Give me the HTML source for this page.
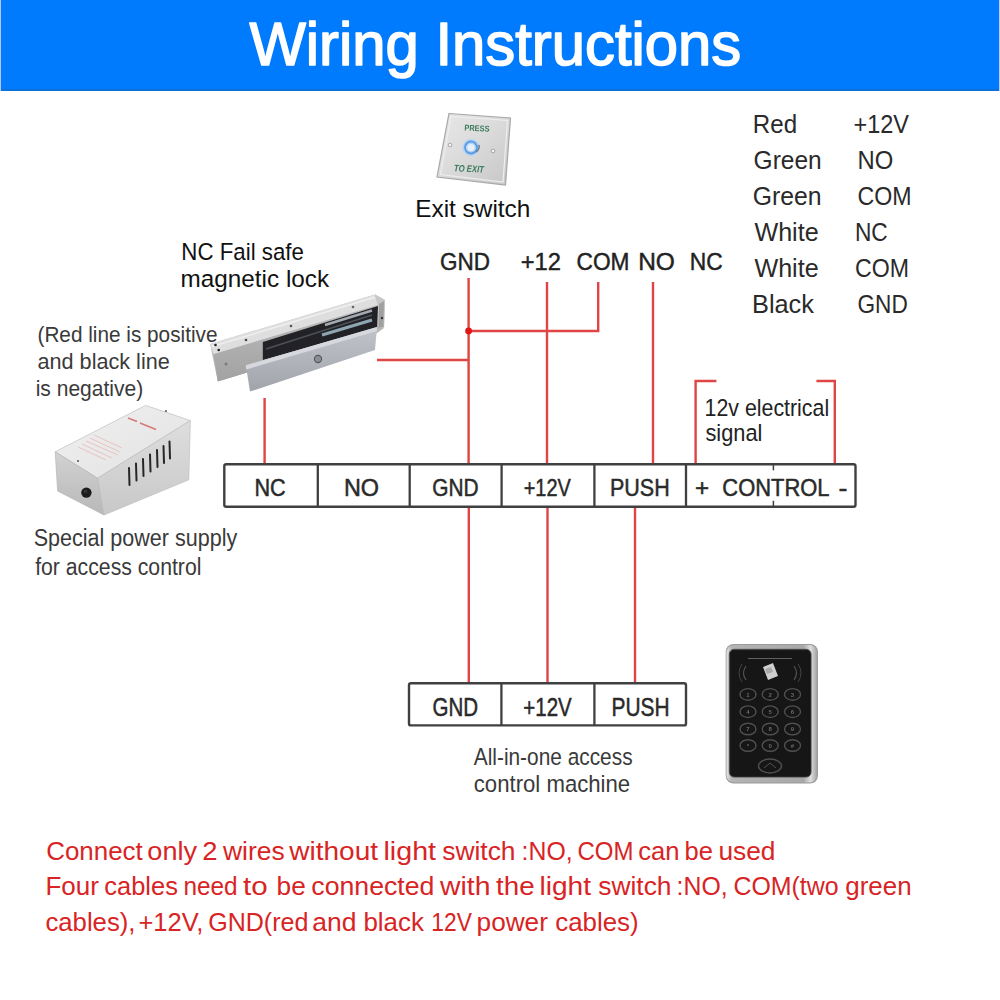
<!DOCTYPE html>
<html><head><meta charset="utf-8"><style>
html,body{margin:0;padding:0;background:#fff;width:1000px;height:1000px;overflow:hidden}
svg{display:block;font-family:"Liberation Sans",sans-serif}
</style></head><body>
<svg width="1000" height="1000" viewBox="0 0 1000 1000">
<rect x="0" y="0" width="1000" height="1000" fill="#fff"/>
<rect x="1" y="0" width="998" height="91" fill="#017bfe"/>
<rect x="1" y="89" width="998" height="2" fill="#0b70d8"/>
<rect x="999" y="0" width="1" height="91" fill="#c4c8fa"/>
<rect x="0" y="0" width="1" height="91" fill="#b8c4f8"/>
<defs>
<linearGradient id="sw" x1="0" y1="0" x2="1" y2="1">
<stop offset="0" stop-color="#e8e8e8"/><stop offset="0.5" stop-color="#dadada"/><stop offset="1" stop-color="#c6c6c6"/>
</linearGradient>
<linearGradient id="lockfront" x1="0" y1="0" x2="0" y2="1">
<stop offset="0" stop-color="#bdbdbd"/><stop offset="1" stop-color="#a2a2a2"/>
</linearGradient>
<linearGradient id="arm" x1="0" y1="0" x2="0" y2="1">
<stop offset="0" stop-color="#c2c4cc"/><stop offset="1" stop-color="#a2a4ac"/>
</linearGradient>
<linearGradient id="kframe" x1="0" y1="0" x2="1" y2="0">
<stop offset="0" stop-color="#e8e8e8"/><stop offset="0.05" stop-color="#b4b4b4"/><stop offset="0.85" stop-color="#a8a8a8"/><stop offset="0.93" stop-color="#dedede"/><stop offset="1" stop-color="#a4a4a4"/>
</linearGradient>
<filter id="soft" x="-5%" y="-5%" width="110%" height="110%"><feGaussianBlur stdDeviation="0.6"/></filter>
<radialGradient id="btn" cx="0.5" cy="0.5" r="0.5">
<stop offset="0" stop-color="#e8f4ff"/><stop offset="0.45" stop-color="#bcdcff"/><stop offset="0.7" stop-color="#3c8ae0"/><stop offset="1" stop-color="#9cc4f0"/>
</radialGradient>
</defs>
<!-- exit switch -->
<g filter="url(#soft)">
<polygon points="449,113.5 510.5,118 505.5,185 437,177" fill="url(#sw)" stroke="#a8a8a8" stroke-width="1.2"/>
<polygon points="451,116.5 507.5,120.5 503,182 440.5,174.5" fill="none" stroke="#eeeeee" stroke-width="1.2"/>
<text x="464.5" y="131" font-size="8.5" font-weight="bold" fill="#3a7a5c" transform="rotate(3 476 128)" textLength="25" lengthAdjust="spacingAndGlyphs">PRESS</text>
<text x="454" y="172" font-size="9.5" font-weight="bold" font-style="italic" fill="#3a7a5c" transform="rotate(3 470 168)" textLength="30" lengthAdjust="spacingAndGlyphs">TO EXIT</text>
<circle cx="471" cy="147.5" r="8.5" fill="#b4d4f4"/>
<circle cx="471" cy="147.5" r="6" fill="none" stroke="#5c9ce6" stroke-width="1.8"/>
<circle cx="471" cy="147.5" r="3.6" fill="#e6f0f8"/>
<path d="M476,152 a7,7 0 0 0 3,-7" fill="none" stroke="#707a84" stroke-width="1.5"/>
<circle cx="450" cy="145" r="1.8" fill="#f8f8f8" stroke="#8a8a8a" stroke-width="0.7"/>
<circle cx="493" cy="151" r="1.8" fill="#f8f8f8" stroke="#8a8a8a" stroke-width="0.7"/>
</g>
<!-- magnetic lock -->
<g filter="url(#soft)">
<polygon points="210.1,344 375,294.5 385,300 384,328 377,333 217.8,381.4" fill="#b8b8b8"/>
<polygon points="210.1,344 375,294.5 378,305 213.5,354.2" fill="#dedede"/>
<polygon points="211,346 374,296.5 375,298 211.5,347.5" fill="#eeeeee"/>
<polygon points="213.5,354.2 378,305 377,333 217.8,381.4" fill="url(#lockfront)"/>
<polygon points="375,294.5 385,300 384,328 378,328 378,305" fill="#c8c8c8"/>
<polygon points="379,304 384,301 383.5,327 378.5,328" fill="#a0a0a0"/>
<polygon points="262.8,342 378,306 377,328 262.8,360" fill="#222428"/>
<line x1="266" y1="349" x2="372" y2="315" stroke="#4c5058" stroke-width="1.4"/>
<line x1="325" y1="325" x2="372" y2="310.5" stroke="#a4a8b0" stroke-width="2.4"/>
<line x1="322" y1="335" x2="372" y2="320" stroke="#8fa6b2" stroke-width="3"/>
<polygon points="245.8,365.3 377,327 375,350 250,391.6" fill="url(#arm)"/>
<polygon points="245.8,365.3 377,327 377,331 246.2,369.5" fill="#d6d8de"/>
<circle cx="318" cy="359" r="3.6" fill="#8c8e94" stroke="#55575c" stroke-width="1.1"/>
<circle cx="246" cy="340" r="1.3" fill="#444"/>
<circle cx="291" cy="326" r="1.3" fill="#555"/>
<circle cx="353" cy="307" r="1.3" fill="#666"/>
<circle cx="215.5" cy="345" r="1.3" fill="#222"/>
<circle cx="218.7" cy="350" r="1.3" fill="#222"/>
<circle cx="226" cy="364" r="1.5" fill="#7a7a7a"/>
<circle cx="382" cy="318" r="1.2" fill="#333"/>
</g>
<!-- power supply -->
<defs>
<linearGradient id="pstop" x1="0" y1="0" x2="1" y2="1"><stop offset="0" stop-color="#f0f0f0"/><stop offset="1" stop-color="#e2e2e2"/></linearGradient>
<linearGradient id="psend" x1="0" y1="0" x2="0" y2="1"><stop offset="0" stop-color="#d2d2d2"/><stop offset="1" stop-color="#b8b8b8"/></linearGradient>
<linearGradient id="psside" x1="0" y1="0" x2="0" y2="1"><stop offset="0" stop-color="#dedede"/><stop offset="1" stop-color="#c8c8c8"/></linearGradient>
</defs>
<g filter="url(#soft)">
<polygon points="55.2,451.8 145.6,405.4 190.4,420.6 97.6,478.2" fill="url(#pstop)" stroke="#c4c4c4" stroke-width="0.8"/>
<polygon points="55.2,451.8 97.6,478.2 104,515 57.6,491" fill="url(#psend)" stroke="#b0b0b0" stroke-width="0.6"/>
<polygon points="97.6,478.2 190.4,420.6 188.8,479.8 104,515" fill="url(#psside)" stroke="#b8b8b8" stroke-width="0.6"/>
<circle cx="86.4" cy="492.6" r="5.2" fill="#1a1a1a"/>
<circle cx="85.5" cy="491.6" r="2" fill="#333"/>
<g stroke="#262626" stroke-width="2" stroke-linecap="round">
<line x1="129" y1="468" x2="129.5" y2="485"/>
<line x1="136" y1="463.5" x2="136.5" y2="480.5"/>
<line x1="143" y1="459" x2="143.5" y2="476"/>
<line x1="150" y1="454.5" x2="150.5" y2="471.5"/>
<line x1="157" y1="450" x2="157.5" y2="467"/>
<line x1="163.5" y1="446" x2="164" y2="463"/>
<line x1="169.5" y1="441.5" x2="170" y2="458.5"/>
</g>
<g stroke="#d87878" stroke-width="1.6">
<line x1="128" y1="418" x2="137" y2="421.5"/>
<line x1="140" y1="423" x2="156" y2="429.5"/>
</g>
<g stroke="#e8b0b0" stroke-width="0.7">
<line x1="86" y1="441" x2="118" y2="455"/>
<line x1="82" y1="444" x2="112" y2="458"/>
<line x1="78" y1="447" x2="106" y2="460"/>
<line x1="90" y1="438" x2="120" y2="452"/>
<line x1="94" y1="435" x2="122" y2="448"/>
</g>
<circle cx="166" cy="411" r="1" fill="#555"/>
<circle cx="78" cy="461" r="1" fill="#555"/>
</g>
<!-- keypad -->
<g filter="url(#soft)">
<rect x="725.7" y="644" width="92.3" height="139.5" rx="8" fill="#9a9a9a"/>
<rect x="726.5" y="645" width="90.5" height="137.5" rx="7.5" fill="url(#kframe)"/>
<rect x="729.3" y="649.3" width="81.8" height="127.8" rx="5" fill="#1a1a1a" stroke="#4a4a4a" stroke-width="0.8"/>
<rect x="731" y="651" width="78.5" height="124.5" rx="4" fill="#141414"/>
<line x1="748" y1="658.5" x2="792" y2="658.5" stroke="#6a6a6a" stroke-width="0.9"/>
<polygon points="763,667 773,663 778,676 768,680" fill="#cfcfcf"/>
<polygon points="765,669 771,667 773,672 767,674" fill="#a8a8a8"/>
<path d="M746,666 q-5,7 0,14" fill="none" stroke="#555" stroke-width="1.2"/>
<path d="M742,664 q-6,9 0,18" fill="none" stroke="#444" stroke-width="1"/>
<path d="M794,666 q5,7 0,14" fill="none" stroke="#555" stroke-width="1.2"/>
<path d="M798,664 q6,9 0,18" fill="none" stroke="#444" stroke-width="1"/>
<g fill="none" stroke="#505050" stroke-width="1.4">
<ellipse cx="748" cy="694.4" rx="8" ry="5.8"/><ellipse cx="770.2" cy="694.4" rx="8" ry="5.8"/><ellipse cx="792.5" cy="694.4" rx="8" ry="5.8"/>
<ellipse cx="748" cy="711.7" rx="8" ry="5.8"/><ellipse cx="770.2" cy="711.7" rx="8" ry="5.8"/><ellipse cx="792.5" cy="711.7" rx="8" ry="5.8"/>
<ellipse cx="748" cy="729" rx="8" ry="5.8"/><ellipse cx="770.2" cy="729" rx="8" ry="5.8"/><ellipse cx="792.5" cy="729" rx="8" ry="5.8"/>
<ellipse cx="748" cy="745.5" rx="8" ry="5.8"/><ellipse cx="770.2" cy="745.5" rx="8" ry="5.8"/><ellipse cx="792.5" cy="745.5" rx="8" ry="5.8"/>
<ellipse cx="770" cy="766" rx="11.5" ry="7"/>
</g>
<g fill="#6a6a6a" font-size="6" font-weight="bold" text-anchor="middle">
<text x="748" y="696.6">1</text><text x="770.2" y="696.6">2</text><text x="792.5" y="696.6">3</text>
<text x="748" y="713.9">4</text><text x="770.2" y="713.9">5</text><text x="792.5" y="713.9">6</text>
<text x="748" y="731.2">7</text><text x="770.2" y="731.2">8</text><text x="792.5" y="731.2">9</text>
<text x="748" y="747.7">*</text><text x="770.2" y="747.7">0</text><text x="792.5" y="747.7">#</text>
</g>
<path d="M764,768 l6,-5 l6,5" fill="none" stroke="#555" stroke-width="1"/>
</g>

<path d="M468.6,278 L468.6,465" fill="none" stroke="#e04444" stroke-width="2.4" stroke-linejoin="miter"/>
<path d="M547,282 L547,465" fill="none" stroke="#e04444" stroke-width="2.4" stroke-linejoin="miter"/>
<path d="M598.2,282 L598.2,331 L468.6,331" fill="none" stroke="#e04444" stroke-width="2.4" stroke-linejoin="miter"/>
<path d="M653,282 L653,465" fill="none" stroke="#e04444" stroke-width="2.4" stroke-linejoin="miter"/>
<path d="M377,360 L468.6,360" fill="none" stroke="#e04444" stroke-width="2.4" stroke-linejoin="miter"/>
<path d="M264.6,398 L264.6,465" fill="none" stroke="#e04444" stroke-width="2.4" stroke-linejoin="miter"/>
<path d="M716.4,381 L695.6,381 L695.6,465" fill="none" stroke="#e04444" stroke-width="2.4" stroke-linejoin="miter"/>
<path d="M816.4,381 L834.8,381 L834.8,465" fill="none" stroke="#e04444" stroke-width="2.4" stroke-linejoin="miter"/>
<path d="M468.8,507 L468.8,684" fill="none" stroke="#e04444" stroke-width="2.4" stroke-linejoin="miter"/>
<path d="M547.5,507 L547.5,684" fill="none" stroke="#e04444" stroke-width="2.4" stroke-linejoin="miter"/>
<path d="M635,507 L635,684" fill="none" stroke="#e04444" stroke-width="2.4" stroke-linejoin="miter"/>
<circle cx="468.6" cy="331" r="3.4" fill="#e01515"/>
<rect x="224.3" y="464.3" width="631.2" height="42.39999999999998" rx="2" fill="none" stroke="#404040" stroke-width="2.4"/>
<line x1="317.8" y1="464.3" x2="317.8" y2="506.7" stroke="#404040" stroke-width="2.3"/>
<line x1="409.7" y1="464.3" x2="409.7" y2="506.7" stroke="#404040" stroke-width="2.3"/>
<line x1="501.6" y1="464.3" x2="501.6" y2="506.7" stroke="#404040" stroke-width="2.3"/>
<line x1="594.4" y1="464.3" x2="594.4" y2="506.7" stroke="#404040" stroke-width="2.3"/>
<line x1="686" y1="464.3" x2="686" y2="506.7" stroke="#404040" stroke-width="2.3"/>
<line x1="773.4" y1="464.3" x2="773.4" y2="470.3" stroke="#404040" stroke-width="1.5"/>
<line x1="773.4" y1="500.7" x2="773.4" y2="506.7" stroke="#404040" stroke-width="1.5"/>
<rect x="409" y="683.2" width="277" height="42.19999999999993" rx="2" fill="none" stroke="#404040" stroke-width="2.4"/>
<line x1="501.4" y1="683.2" x2="501.4" y2="725.4" stroke="#404040" stroke-width="2.3"/>
<line x1="594.4" y1="683.2" x2="594.4" y2="725.4" stroke="#404040" stroke-width="2.3"/>
<text x="249.38" y="64.50" font-size="60.32" font-weight="normal" fill="#fff" stroke="#fff" stroke-width="1.6" stroke-linejoin="round" textLength="491.84" lengthAdjust="spacingAndGlyphs">Wiring Instructions</text>
<text x="415.18" y="216.90" font-size="23.26" font-weight="normal" fill="#111" textLength="115.21" lengthAdjust="spacingAndGlyphs">Exit switch</text>
<text x="752.81" y="133.30" font-size="26.16" font-weight="normal" fill="#2a2a2a" textLength="44.28" lengthAdjust="spacingAndGlyphs">Red</text>
<text x="853.43" y="133.30" font-size="26.16" font-weight="normal" fill="#2a2a2a" textLength="55.54" lengthAdjust="spacingAndGlyphs">+12V</text>
<text x="753.61" y="169.40" font-size="26.16" font-weight="normal" fill="#2a2a2a" textLength="68.06" lengthAdjust="spacingAndGlyphs">Green</text>
<text x="857.43" y="169.40" font-size="26.16" font-weight="normal" fill="#2a2a2a" textLength="35.76" lengthAdjust="spacingAndGlyphs">NO</text>
<text x="752.81" y="205.00" font-size="26.16" font-weight="normal" fill="#2a2a2a" textLength="68.86" lengthAdjust="spacingAndGlyphs">Green</text>
<text x="857.47" y="205.00" font-size="26.16" font-weight="normal" fill="#2a2a2a" textLength="54.10" lengthAdjust="spacingAndGlyphs">COM</text>
<text x="754.41" y="240.70" font-size="26.16" font-weight="normal" fill="#2a2a2a" textLength="64.26" lengthAdjust="spacingAndGlyphs">White</text>
<text x="854.91" y="240.70" font-size="26.16" font-weight="normal" fill="#2a2a2a" textLength="32.86" lengthAdjust="spacingAndGlyphs">NC</text>
<text x="754.41" y="277.00" font-size="26.16" font-weight="normal" fill="#2a2a2a" textLength="64.26" lengthAdjust="spacingAndGlyphs">White</text>
<text x="854.99" y="277.00" font-size="26.16" font-weight="normal" fill="#2a2a2a" textLength="54.00" lengthAdjust="spacingAndGlyphs">COM</text>
<text x="752.01" y="312.60" font-size="26.16" font-weight="normal" fill="#2a2a2a" textLength="61.96" lengthAdjust="spacingAndGlyphs">Black</text>
<text x="857.47" y="312.60" font-size="26.16" font-weight="normal" fill="#2a2a2a" textLength="50.30" lengthAdjust="spacingAndGlyphs">GND</text>
<text x="181.36" y="259.70" font-size="23.26" font-weight="normal" fill="#111" textLength="122.51" lengthAdjust="spacingAndGlyphs">NC Fail safe</text>
<text x="180.56" y="287.20" font-size="23.26" font-weight="normal" fill="#111" textLength="148.61" lengthAdjust="spacingAndGlyphs">magnetic lock</text>
<text x="37.48" y="341.50" font-size="21.37" font-weight="normal" fill="#3a3a3a" textLength="180.00" lengthAdjust="spacingAndGlyphs">(Red line is positive</text>
<text x="37.52" y="368.80" font-size="21.37" font-weight="normal" fill="#3a3a3a" textLength="132.24" lengthAdjust="spacingAndGlyphs">and black line</text>
<text x="35.68" y="396.10" font-size="21.37" font-weight="normal" fill="#3a3a3a" textLength="107.56" lengthAdjust="spacingAndGlyphs">is negative)</text>
<text x="33.70" y="546.40" font-size="23.98" font-weight="normal" fill="#3a3a3a" textLength="203.52" lengthAdjust="spacingAndGlyphs">Special power supply</text>
<text x="35.16" y="575.00" font-size="23.98" font-weight="normal" fill="#3a3a3a" textLength="166.28" lengthAdjust="spacingAndGlyphs">for access control</text>
<text x="440.00" y="270.40" font-size="24.71" font-weight="normal" fill="#222" stroke="#222" stroke-width="0.45" stroke-linejoin="round" textLength="49.97" lengthAdjust="spacingAndGlyphs">GND</text>
<text x="520.76" y="270.40" font-size="24.71" font-weight="normal" fill="#222" stroke="#222" stroke-width="0.45" stroke-linejoin="round" textLength="40.21" lengthAdjust="spacingAndGlyphs">+12</text>
<text x="576.56" y="270.40" font-size="24.71" font-weight="normal" fill="#222" stroke="#222" stroke-width="0.45" stroke-linejoin="round" textLength="52.97" lengthAdjust="spacingAndGlyphs">COM</text>
<text x="638.20" y="270.40" font-size="24.71" font-weight="normal" fill="#222" stroke="#222" stroke-width="0.45" stroke-linejoin="round" textLength="36.73" lengthAdjust="spacingAndGlyphs">NO</text>
<text x="689.76" y="270.40" font-size="24.71" font-weight="normal" fill="#222" stroke="#222" stroke-width="0.45" stroke-linejoin="round" textLength="32.97" lengthAdjust="spacingAndGlyphs">NC</text>
<text x="254.42" y="496.00" font-size="24.71" font-weight="normal" fill="#2a2a2a" stroke="#2a2a2a" stroke-width="0.5" stroke-linejoin="round" textLength="31.31" lengthAdjust="spacingAndGlyphs">NC</text>
<text x="343.96" y="496.00" font-size="24.71" font-weight="normal" fill="#2a2a2a" stroke="#2a2a2a" stroke-width="0.5" stroke-linejoin="round" textLength="35.11" lengthAdjust="spacingAndGlyphs">NO</text>
<text x="432.32" y="496.00" font-size="24.71" font-weight="normal" fill="#2a2a2a" stroke="#2a2a2a" stroke-width="0.5" stroke-linejoin="round" textLength="46.37" lengthAdjust="spacingAndGlyphs">GND</text>
<text x="523.70" y="496.00" font-size="24.71" font-weight="normal" fill="#2a2a2a" stroke="#2a2a2a" stroke-width="0.5" stroke-linejoin="round" textLength="47.09" lengthAdjust="spacingAndGlyphs">+12V</text>
<text x="609.96" y="496.00" font-size="24.71" font-weight="normal" fill="#2a2a2a" stroke="#2a2a2a" stroke-width="0.5" stroke-linejoin="round" textLength="59.77" lengthAdjust="spacingAndGlyphs">PUSH</text>
<text x="694.92" y="496.00" font-size="24.71" font-weight="normal" fill="#2a2a2a" stroke="#2a2a2a" stroke-width="0.5" stroke-linejoin="round" textLength="14.17" lengthAdjust="spacingAndGlyphs">+</text>
<text x="722.32" y="496.00" font-size="24.71" font-weight="normal" fill="#2a2a2a" stroke="#2a2a2a" stroke-width="0.5" stroke-linejoin="round" textLength="107.17" lengthAdjust="spacingAndGlyphs">CONTROL</text>
<text x="838.52" y="496.00" font-size="24.71" font-weight="normal" fill="#2a2a2a" stroke="#2a2a2a" stroke-width="0.5" stroke-linejoin="round" textLength="8.97" lengthAdjust="spacingAndGlyphs">-</text>
<text x="704.60" y="415.60" font-size="23.26" font-weight="normal" fill="#222" textLength="124.55" lengthAdjust="spacingAndGlyphs">12v electrical</text>
<text x="705.40" y="441.20" font-size="23.26" font-weight="normal" fill="#222" textLength="57.03" lengthAdjust="spacingAndGlyphs">signal</text>
<text x="432.43" y="715.50" font-size="26.16" font-weight="normal" fill="#2a2a2a" stroke="#2a2a2a" stroke-width="0.5" stroke-linejoin="round" textLength="45.58" lengthAdjust="spacingAndGlyphs">GND</text>
<text x="523.33" y="715.50" font-size="26.16" font-weight="normal" fill="#2a2a2a" stroke="#2a2a2a" stroke-width="0.5" stroke-linejoin="round" textLength="48.44" lengthAdjust="spacingAndGlyphs">+12V</text>
<text x="611.43" y="715.50" font-size="26.16" font-weight="normal" fill="#2a2a2a" stroke="#2a2a2a" stroke-width="0.5" stroke-linejoin="round" textLength="58.14" lengthAdjust="spacingAndGlyphs">PUSH</text>
<text x="473.78" y="765.40" font-size="23.26" font-weight="normal" fill="#3a3a3a" textLength="158.81" lengthAdjust="spacingAndGlyphs">All-in-one access</text>
<text x="473.78" y="792.00" font-size="23.26" font-weight="normal" fill="#3a3a3a" textLength="156.43" lengthAdjust="spacingAndGlyphs">control machine</text>
<text x="46.23" y="860.00" font-size="26.16" font-weight="normal" fill="#d82424" textLength="96.54" lengthAdjust="spacingAndGlyphs">Connect</text>
<text x="147.38" y="860.00" font-size="26.16" font-weight="normal" fill="#d82424" textLength="49.69" lengthAdjust="spacingAndGlyphs">only</text>
<text x="202.38" y="860.00" font-size="26.16" font-weight="normal" fill="#d82424" textLength="15.24" lengthAdjust="spacingAndGlyphs">2</text>
<text x="222.93" y="860.00" font-size="26.16" font-weight="normal" fill="#d82424" textLength="61.79" lengthAdjust="spacingAndGlyphs">wires</text>
<text x="289.23" y="860.00" font-size="26.16" font-weight="normal" fill="#d82424" textLength="88.89" lengthAdjust="spacingAndGlyphs">without</text>
<text x="383.53" y="860.00" font-size="26.16" font-weight="normal" fill="#d82424" textLength="52.49" lengthAdjust="spacingAndGlyphs">light</text>
<text x="442.23" y="860.00" font-size="26.16" font-weight="normal" fill="#d82424" textLength="73.29" lengthAdjust="spacingAndGlyphs">switch</text>
<text x="521.58" y="860.00" font-size="26.16" font-weight="normal" fill="#d82424" textLength="51.04" lengthAdjust="spacingAndGlyphs">:NO,</text>
<text x="577.38" y="860.00" font-size="26.16" font-weight="normal" fill="#d82424" textLength="56.04" lengthAdjust="spacingAndGlyphs">COM</text>
<text x="638.18" y="860.00" font-size="26.16" font-weight="normal" fill="#d82424" textLength="41.29" lengthAdjust="spacingAndGlyphs">can</text>
<text x="684.48" y="860.00" font-size="26.16" font-weight="normal" fill="#d82424" textLength="28.39" lengthAdjust="spacingAndGlyphs">be</text>
<text x="718.43" y="860.00" font-size="26.16" font-weight="normal" fill="#d82424" textLength="57.09" lengthAdjust="spacingAndGlyphs">used</text>
<text x="45.43" y="895.40" font-size="26.16" font-weight="normal" fill="#d82424" textLength="53.49" lengthAdjust="spacingAndGlyphs">Four</text>
<text x="104.33" y="895.40" font-size="26.16" font-weight="normal" fill="#d82424" textLength="73.54" lengthAdjust="spacingAndGlyphs">cables</text>
<text x="183.43" y="895.40" font-size="26.16" font-weight="normal" fill="#d82424" textLength="54.19" lengthAdjust="spacingAndGlyphs">need</text>
<text x="242.93" y="895.40" font-size="26.16" font-weight="normal" fill="#d82424" textLength="24.69" lengthAdjust="spacingAndGlyphs">to</text>
<text x="276.58" y="895.40" font-size="26.16" font-weight="normal" fill="#d82424" textLength="29.19" lengthAdjust="spacingAndGlyphs">be</text>
<text x="311.33" y="895.40" font-size="26.16" font-weight="normal" fill="#d82424" textLength="123.14" lengthAdjust="spacingAndGlyphs">connected</text>
<text x="440.03" y="895.40" font-size="26.16" font-weight="normal" fill="#d82424" textLength="50.49" lengthAdjust="spacingAndGlyphs">with</text>
<text x="496.08" y="895.40" font-size="26.16" font-weight="normal" fill="#d82424" textLength="38.64" lengthAdjust="spacingAndGlyphs">the</text>
<text x="539.48" y="895.40" font-size="26.16" font-weight="normal" fill="#d82424" textLength="51.54" lengthAdjust="spacingAndGlyphs">light</text>
<text x="598.18" y="895.40" font-size="26.16" font-weight="normal" fill="#d82424" textLength="73.39" lengthAdjust="spacingAndGlyphs">switch</text>
<text x="676.58" y="895.40" font-size="26.16" font-weight="normal" fill="#d82424" textLength="51.04" lengthAdjust="spacingAndGlyphs">:NO,</text>
<text x="733.43" y="895.40" font-size="26.16" font-weight="normal" fill="#d82424" textLength="105.24" lengthAdjust="spacingAndGlyphs">COM(two</text>
<text x="845.28" y="895.40" font-size="26.16" font-weight="normal" fill="#d82424" textLength="66.29" lengthAdjust="spacingAndGlyphs">green</text>
<text x="45.43" y="930.50" font-size="26.16" font-weight="normal" fill="#d82424" textLength="90.09" lengthAdjust="spacingAndGlyphs">cables),</text>
<text x="138.43" y="930.50" font-size="26.16" font-weight="normal" fill="#d82424" textLength="64.99" lengthAdjust="spacingAndGlyphs">+12V,</text>
<text x="208.18" y="930.50" font-size="26.16" font-weight="normal" fill="#d82424" textLength="100.24" lengthAdjust="spacingAndGlyphs">GND(red</text>
<text x="312.38" y="930.50" font-size="26.16" font-weight="normal" fill="#d82424" textLength="44.19" lengthAdjust="spacingAndGlyphs">and</text>
<text x="363.43" y="930.50" font-size="26.16" font-weight="normal" fill="#d82424" textLength="60.49" lengthAdjust="spacingAndGlyphs">black</text>
<text x="431.33" y="930.50" font-size="26.16" font-weight="normal" fill="#d82424" textLength="40.49" lengthAdjust="spacingAndGlyphs">12V</text>
<text x="476.58" y="930.50" font-size="26.16" font-weight="normal" fill="#d82424" textLength="71.29" lengthAdjust="spacingAndGlyphs">power</text>
<text x="555.28" y="930.50" font-size="26.16" font-weight="normal" fill="#d82424" textLength="83.39" lengthAdjust="spacingAndGlyphs">cables)</text>
</svg>
</body></html>
